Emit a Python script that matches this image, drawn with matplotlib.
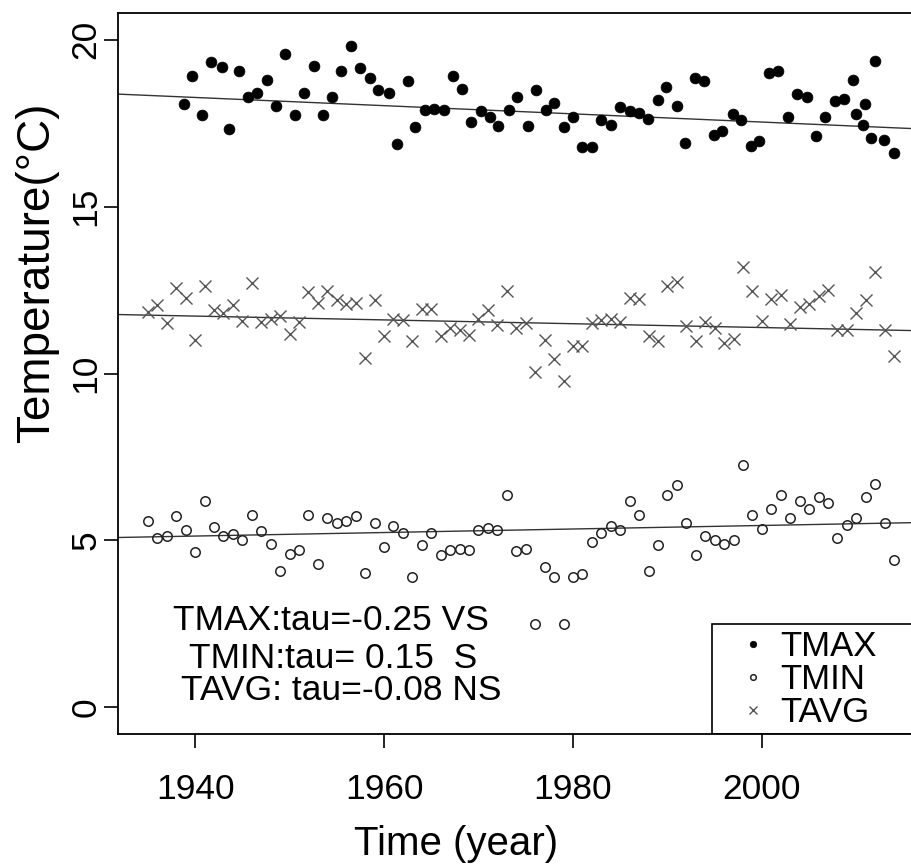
import numpy as np
import matplotlib
matplotlib.use('Agg')
import matplotlib.pyplot as plt
from matplotlib.patches import Rectangle

plt.rcParams['font.family'] = ['Liberation Sans', 'DejaVu Sans']

# ─── data ───
tmax_years = [1938.8, 1939.7, 1940.7, 1941.7, 1942.8, 1943.6, 1944.7, 1945.6, 1946.6, 1947.6,
              1948.6, 1949.5, 1950.6, 1951.5, 1952.6, 1953.5, 1954.5, 1955.4, 1956.5, 1957.5,
              1958.5, 1959.4, 1960.5, 1961.4, 1962.5, 1963.3, 1964.3, 1965.3, 1966.4, 1967.3,
              1968.3, 1969.2, 1970.3, 1971.2, 1972.1, 1973.2, 1974.1, 1975.2, 1976.1, 1977.1,
              1978.0, 1979.1, 1980.0, 1981.0, 1982.0, 1983.0, 1984.0, 1985.0, 1986.0, 1987.0,
              1987.9, 1989.0, 1989.9, 1991.0, 1991.9, 1992.9, 1993.9, 1994.9, 1995.8, 1996.9,
              1997.8, 1998.8, 1999.7, 2000.8, 2001.7, 2002.8, 2003.7, 2004.8, 2005.7, 2006.7,
              2007.7, 2008.7, 2009.6, 2010.0, 2010.7, 2010.9, 2011.6, 2012.0, 2012.9, 2014.0]
tmax = [18.07, 18.92, 17.75, 19.34, 19.19, 17.33, 19.05, 18.27, 18.41, 18.79,
        18.02, 19.57, 17.75, 18.41, 19.22, 17.75, 18.27, 19.05, 19.82, 19.15,
        18.84, 18.49, 18.41, 16.87, 18.75, 17.37, 17.89, 17.91, 17.89, 18.92,
        18.52, 17.54, 17.85, 17.69, 17.41, 17.89, 18.27, 17.41, 18.49, 17.89,
        18.11, 17.37, 17.69, 16.80, 16.80, 17.60, 17.44, 17.99, 17.86, 17.81,
        17.63, 18.19, 18.57, 18.02, 16.91, 18.84, 18.75, 17.16, 17.26, 17.78,
        17.60, 16.81, 16.96, 19.01, 19.05, 17.69, 18.37, 18.29, 17.11, 17.69,
        18.15, 18.22, 18.79, 17.78, 17.43, 18.07, 17.07, 19.37, 16.99, 16.60]

years = list(range(1935, 2015))
tavg = [11.84, 12.06, 11.51, 12.57, 12.25, 10.99, 12.61, 11.89, 11.81, 12.06,
        11.57, 12.72, 11.54, 11.64, 11.71, 11.19, 11.54, 12.43, 12.12, 12.46,
        12.21, 12.07, 12.12, 10.46, 12.19, 11.11, 11.64, 11.59, 10.96, 11.94,
        11.94, 11.11, 11.37, 11.29, 11.14, 11.64, 11.89, 11.44, 12.46, 11.37,
        11.51, 10.04, 10.99, 10.44, 9.77, 10.81, 10.81, 11.52, 11.61, 11.64,
        11.54, 12.25, 12.22, 11.11, 10.97, 12.63, 12.75, 11.41, 10.97, 11.54,
        11.37, 10.91, 11.04, 13.20, 12.46, 11.57, 12.22, 12.34, 11.49, 11.99,
        12.09, 12.31, 12.51, 11.29, 11.29, 11.81, 12.21, 13.05, 11.29, 10.51]
tmin = [5.57, 5.06, 5.14, 5.72, 5.30, 4.65, 6.17, 5.41, 5.14, 5.20,
        5.02, 5.76, 5.27, 4.89, 4.07, 4.60, 4.72, 5.76, 4.30, 5.67,
        5.52, 5.57, 5.72, 4.02, 5.51, 4.80, 5.42, 5.22, 3.90, 4.85,
        5.22, 4.55, 4.72, 4.75, 4.72, 5.30, 5.38, 5.30, 6.35, 4.68,
        4.75, 2.51, 4.20, 3.90, 2.51, 3.90, 3.98, 4.95, 5.22, 5.42,
        5.30, 6.17, 5.77, 4.08, 4.85, 6.35, 6.65, 5.52, 4.55, 5.14,
        5.00, 4.90, 5.00, 7.25, 5.75, 5.33, 5.95, 6.35, 5.68, 6.17,
        5.95, 6.30, 6.12, 5.07, 5.45, 5.68, 6.30, 6.68, 5.52, 4.42]

# trend lines, value at two years
trend_years = [1940, 2010]
tmax_trend = [18.27, 17.41]
tavg_trend = [11.72, 11.32]
tmin_trend = [5.13, 5.50]

stats_lines = ["TMAX:tau=-0.25 VS", "TMIN:tau= 0.15  S", "TAVG: tau=-0.08 NS"]
x_ticks = [1940, 1960, 1980, 2000]
y_ticks = [0, 5, 10, 15, 20]

W, H = 912, 867
fig = plt.figure(figsize=(W / 100, H / 100), dpi=100)
ax = fig.add_axes([118 / W, 1 - 734 / H, 806 / W, 721 / H])

p1, = ax.plot(tmax_years, tmax, 'o', ms=7.8, color='black', mec='black', mew=0.5, label='TMAX')
p2, = ax.plot(years, tmin, 'o', ms=6.8, mfc='none', mec='#222222', mew=1.1, label='TMIN')
p3, = ax.plot(years, tavg, 'x', ms=8.5, color='#555555', mew=1.0, label='TAVG')

for tr in [tmax_trend, tavg_trend, tmin_trend]:
    ax.axline((trend_years[0], tr[0]), (trend_years[1], tr[1]), color='#333333', lw=1.0, zorder=1)

ax.set_xlim(1931.84, 2017.16)
ax.set_ylim(-0.8, 20.8)
ax.set_xticks(x_ticks)
ax.set_yticks(y_ticks)
ax.tick_params(axis='both', direction='out', length=10, width=1.2, labelsize=25.5, color='black')
ax.tick_params(axis='x', pad=18)
ax.tick_params(axis='y', pad=1)
for lab in ax.get_yticklabels():
    lab.set_rotation(90)
    lab.set_va('center')
for s in ax.spines.values():
    s.set_linewidth(1.3)

ax.set_ylabel("Temperature(°C)", fontsize=33)
ax.yaxis.set_label_coords(-0.1, 0.641)
ax.yaxis.label.set_va('center')
ax.set_xlabel("Time (year)", fontsize=29)
ax.xaxis.set_label_coords(0.419, -0.153)
ax.xaxis.label.set_va('center')

for txt, (tx, ty) in zip(stats_lines, [(0.264, 0.158), (0.267, 0.105), (0.277, 0.060)]):
    ax.text(tx, ty, txt, transform=ax.transAxes, ha='center', va='center', fontsize=25.5)

# legend box runs off the right edge like the original
ax.add_patch(Rectangle((0.737, 0), 0.5, 0.1525, transform=ax.transAxes,
                       fill=False, ec='black', lw=1.2))
leg = ax.legend(handles=[p1, p2, p3], loc='lower left', bbox_to_anchor=(0.737, -0.026),
                frameon=False, fontsize=25, markerscale=0.6, handlelength=1.0,
                handletextpad=0.3, borderpad=0.67, labelspacing=0.0, borderaxespad=0)

fig.savefig('out.png', dpi=100)
